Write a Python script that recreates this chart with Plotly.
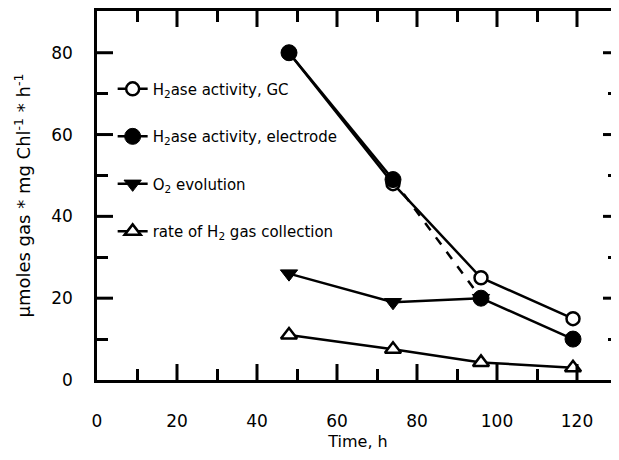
import plotly.graph_objects as go

time_h = [48, 74, 96, 119]
gc_activity = [80, 48, 25, 15]
electrode_activity = [80, 49, 20, 10]
o2_evolution = [26, 19, 20]
h2_collection = [11, 7.5, 4.3, 3]

names = [
    "H<sub>2</sub>ase activity, GC",
    "H<sub>2</sub>ase activity, electrode",
    "O<sub>2</sub> evolution",
    "rate of H<sub>2</sub> gas collection",
]
x_ticks = [0, 20, 40, 60, 80, 100, 120]
x_minor = [10, 30, 50, 70, 90, 110, 130]
y_ticks = [0, 20, 40, 60, 80]
y_minor = [10, 30, 50, 70, 90]
x_range = [0, 130.5]
y_range = [0, 90.2]

FONT = "DejaVu Sans, Arial, sans-serif"
fig = go.Figure()

el_x = time_h[:2] + [None] + time_h[2:]
el_y = electrode_activity[:2] + [None] + electrode_activity[2:]

fig.add_trace(go.Scatter(
    x=time_h[1:3], y=electrode_activity[1:3], mode="lines",
    line=dict(color="black", width=2.5, dash="dash"),
    showlegend=False, hoverinfo="skip"))
fig.add_trace(go.Scatter(
    x=time_h, y=gc_activity, mode="lines+markers", name=names[0],
    legendgroup="a",
    line=dict(color="black", width=2.5),
    marker=dict(symbol="circle", size=13, color="white",
                line=dict(color="black", width=2.5))))
fig.add_trace(go.Scatter(
    x=el_x, y=el_y, mode="lines+markers", name=names[1],
    legendgroup="b", connectgaps=False,
    line=dict(color="black", width=2.5),
    marker=dict(symbol="circle", size=16, color="black",
                line=dict(color="black", width=1))))
fig.add_trace(go.Scatter(
    x=time_h[:3], y=o2_evolution, mode="lines+markers", name=names[2],
    legendgroup="c",
    line=dict(color="black", width=2.5),
    marker=dict(symbol="triangle-down", size=15, color="black",
                line=dict(color="black", width=1))))
fig.add_trace(go.Scatter(
    x=time_h, y=h2_collection, mode="lines+markers", name=names[3],
    legendgroup="d",
    line=dict(color="black", width=2.5),
    marker=dict(symbol="triangle-up", size=14, color="white",
                line=dict(color="black", width=2.5))))
# invisible trace on an overlay axis pair that carries the short ticks
fig.add_trace(go.Scatter(
    x=x_range, y=y_range, xaxis="x2", yaxis="y2", mode="markers",
    marker=dict(opacity=0), showlegend=False, hoverinfo="skip"))

# long (major) tick marks drawn as short line shapes at the tick values
MAJ_X = 16 / 369.0   # tick length as fraction of plot height
MAJ_Y = 16 / 522.0   # tick length as fraction of plot width
tick_line = dict(color="black", width=3)
for v in x_ticks[1:]:
    fig.add_shape(type="line", xref="x", yref="y domain", x0=v, x1=v,
                  y0=0, y1=MAJ_X, line=tick_line, layer="above")
    fig.add_shape(type="line", xref="x", yref="y domain", x0=v, x1=v,
                  y0=1 - MAJ_X, y1=1, line=tick_line, layer="above")
for v in y_ticks[1:]:
    fig.add_shape(type="line", xref="x domain", yref="y", y0=v, y1=v,
                  x0=0, x1=MAJ_Y, line=tick_line, layer="above")
    fig.add_shape(type="line", xref="x domain", yref="y", y0=v, y1=v,
                  x0=1 - MAJ_Y, x1=1, line=tick_line, layer="above")


def tick_axis(over, anchor, rng, vals, length, width):
    return dict(overlaying=over, anchor=anchor, range=rng, tickmode="array",
                tickvals=vals, ticks="inside", ticklen=length,
                tickwidth=width, tickcolor="black", showticklabels=False,
                showline=False, mirror="ticks", showgrid=False,
                zeroline=False, automargin=False)


fig.update_layout(
    xaxis=dict(
        range=x_range, tickmode="array", tickvals=x_ticks, ticks="",
        showline=True, linecolor="black", linewidth=2.5, mirror=True,
        showgrid=False, zeroline=False, automargin=False,
        ticklabelstandoff=24,
        tickfont=dict(family=FONT, size=17, color="black"),
        title=dict(text="Time, h",
                   font=dict(family=FONT, size=16, color="black"),
                   standoff=6)),
    yaxis=dict(
        range=y_range, tickmode="array", tickvals=y_ticks, ticks="",
        showline=True, linecolor="black", linewidth=2.5, mirror=True,
        showgrid=False, zeroline=False, automargin=False,
        ticklabelstandoff=18,
        tickfont=dict(family=FONT, size=17, color="black"),
        title=dict(text="µmoles gas * mg Chl<sup>-1</sup> * h<sup>-1</sup>",
                   font=dict(family=FONT, size=18, color="black"),
                   standoff=16)),
    xaxis2=tick_axis("x", "y2", x_range, x_minor, 11, 2.5),
    yaxis2=tick_axis("y", "x2", y_range, y_minor, 11, 2.5),
    width=611, height=452,
    margin=dict(l=89, r=0, t=3, b=80),
    paper_bgcolor="white", plot_bgcolor="white",
    font=dict(family=FONT, color="black"),
    legend=dict(x=0.03, y=0.833, xanchor="left", yanchor="top",
                bgcolor="rgba(0,0,0,0)", tracegroupgap=25,
                font=dict(family=FONT, size=15, color="black"),
                itemwidth=30),
)

fig.write_html("out.html")
